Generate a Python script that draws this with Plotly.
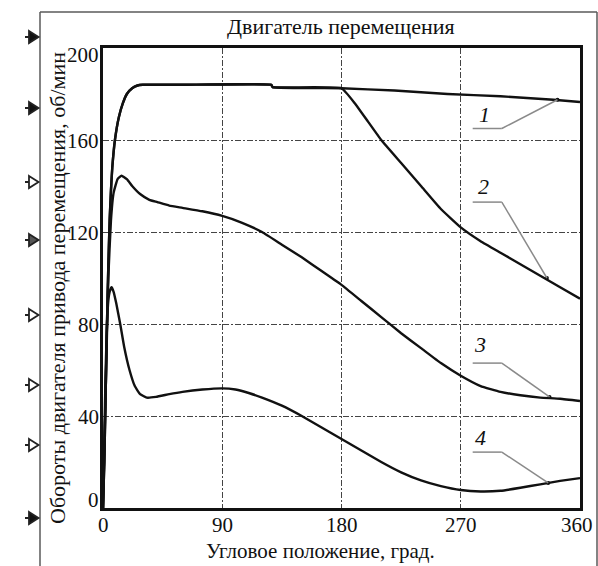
import plotly.graph_objects as go

# ---- data ----
x1 = [0, 1, 2, 3, 4, 5, 6, 7, 9, 12, 15, 18, 22, 26, 30, 60, 127, 128, 180, 220, 260, 300, 340, 360]
y1 = [0, 20, 50, 80, 105, 125, 138, 148, 160, 170, 176, 180, 182.5, 183.7, 184, 184, 184, 183, 182.5, 181.5, 180, 179, 177.5, 176.5]

x2 = [0, 1, 2, 3, 4, 5, 6, 7, 9, 12, 15, 18, 22, 26, 30, 60, 127, 128, 180, 190, 200, 210, 225, 240, 255, 270, 285, 300, 315, 330, 345, 360]
y2 = [0, 20, 50, 80, 105, 125, 138, 148, 160, 170, 176, 180, 182.5, 183.7, 184, 184, 184, 183, 182.5, 176, 168, 160, 150, 140, 130, 122, 116, 111, 106, 101, 96, 91]

x3 = [0, 2, 4, 6, 8, 11, 14, 18, 22, 28, 35, 41, 50, 60, 75, 90, 105, 120, 135, 150, 165, 180, 195, 210, 225, 240, 255, 270, 285, 300, 315, 330, 345, 360]
y3 = [0, 50, 100, 125, 137, 143, 144.5, 143, 140, 136.5, 134, 133, 131.5, 130.5, 129, 127, 124, 120, 114.5, 109, 103, 97, 90, 83, 76, 69.5, 63, 57.5, 53, 50.5, 49, 48, 47.5, 46.5]

x4 = [0, 1, 2, 3, 4, 5, 6.5, 8, 10, 13, 16, 20, 24, 28, 33, 40, 50, 60, 75, 90, 100, 110, 120, 135, 150, 165, 180, 195, 210, 225, 240, 255, 270, 285, 300, 315, 330, 345, 360]
y4 = [0, 30, 60, 80, 90, 94, 96, 94, 89, 80, 70, 60, 53, 49.5, 48, 48.3, 49.5, 50.5, 51.5, 52, 51.5, 50, 48, 44.5, 40, 35, 30, 25, 20, 15.5, 12, 9.5, 7.8, 7.2, 7.5, 8.8, 10.3, 11.8, 13]

series_x = [x1, x2, x3, x4]
series_y = [y1, y2, y3, y4]
series_names = ["1", "2", "3", "4"]

x_ticks = [0, 90, 180, 270, 360]
y_ticks = [0, 40, 80, 120, 160, 200]

# leader labels: label position, elbow start/end, target on curve (data units)
label_text_x = [288, 287, 284.5, 285]
label_text_y = [171, 140, 71, 30.5]
leader_x0 = [279, 279, 279, 279]
leader_x1 = [301, 301, 301, 301]
leader_y = [165, 133, 63, 24.3]
target_x = [343, 335, 337, 336]
target_y = [177.5, 100, 48.3, 10.9]

title_text = "Двигатель перемещения"
xlabel = "Угловое положение, град."
ylabel = "Обороты двигателя привода перемещения, об/мин"

FONT = "Liberation Serif, Times New Roman, serif"

# ---- geometry helpers (pixel -> paper) ----
L, R, T, B = 103, 580, 48, 508
W, H = 598, 566


def px(x):
    return (x - L) / (R - L)


def py(y):
    return (B - y) / (B - T)


fig = go.Figure()
for xs, ys, nm in zip(series_x, series_y, series_names):
    fig.add_trace(go.Scatter(x=xs, y=ys, mode="lines", name=nm,
                             line=dict(color="#111111", width=2.4, shape="spline", smoothing=0.35),
                             showlegend=False, hoverinfo="skip"))

shapes = []
annotations = []

# leader lines
for i in range(4):
    shapes.append(dict(type="line", xref="x", yref="y", x0=leader_x0[i], y0=leader_y[i],
                       x1=leader_x1[i], y1=leader_y[i], line=dict(color="#8a8a8a", width=1.5)))
    shapes.append(dict(type="line", xref="x", yref="y", x0=leader_x1[i], y0=leader_y[i],
                       x1=target_x[i], y1=target_y[i], line=dict(color="#8a8a8a", width=1.5)))
    annotations.append(dict(x=label_text_x[i], y=label_text_y[i], xref="x", yref="y",
                            xanchor="center", yanchor="middle",
                            text="<i>" + series_names[i] + "</i>", showarrow=False,
                            font=dict(family=FONT, size=22, color="#111111")))
fig.add_trace(go.Scatter(x=target_x, y=target_y, mode="markers",
                         marker=dict(color="#111111", size=4), showlegend=False, hoverinfo="skip"))

# tick labels (placed at axis values)
for v in x_ticks:
    annotations.append(dict(x=v, y=py(525), xref="x", yref="paper", text=str(v), showarrow=False,
                            xanchor="center", yanchor="middle", xshift=-3 if v == x_ticks[-1] else 0,
                            font=dict(family=FONT, size=21, color="#111111")))
for v in y_ticks:
    shift = -7 if v == y_ticks[-1] else (8 if v == y_ticks[0] else -1)
    annotations.append(dict(x=px(101), y=v, xref="paper", yref="y", text=str(v), showarrow=False,
                            xanchor="right", yanchor="middle", yshift=shift,
                            font=dict(family=FONT, size=21, color="#111111")))

# outer frame
frame_col = "#5a5a5a"
shapes.append(dict(type="line", xref="paper", yref="paper", x0=px(40), y0=py(12), x1=px(40), y1=py(566),
                   line=dict(color=frame_col, width=1.5)))
shapes.append(dict(type="line", xref="paper", yref="paper", x0=px(40), y0=py(12), x1=px(597), y1=py(12),
                   line=dict(color=frame_col, width=1.5)))
shapes.append(dict(type="line", xref="paper", yref="paper", x0=px(597), y0=py(12), x1=px(597), y1=py(566),
                   line=dict(color=frame_col, width=1.5)))

# left-side port arrows
arrow_y = [37, 108, 182, 240, 315, 385, 445, 518]
arrow_fill = ["#111111", "#111111", "#ffffff", "#555555", "#ffffff", "#ffffff", "#ffffff", "#111111"]
for ay, fc in zip(arrow_y, arrow_fill):
    path = "M {a},{b} L {c},{d} L {e},{f} Z".format(
        a=px(29), b=py(ay - 6), c=px(38.5), d=py(ay), e=px(29), f=py(ay + 6))
    shapes.append(dict(type="path", xref="paper", yref="paper", path=path,
                       fillcolor=fc, line=dict(color="#222222", width=1.8)))
    shapes.append(dict(type="line", xref="paper", yref="paper", x0=px(25), y0=py(ay), x1=px(29), y1=py(ay),
                       line=dict(color="#222222", width=2)))

# titles
annotations.append(dict(x=px(341), y=py(27), xref="paper", yref="paper", text=title_text,
                        xanchor="center", yanchor="middle",
                        showarrow=False, font=dict(family=FONT, size=22, color="#111111")))
annotations.append(dict(x=px(320), y=py(551), xref="paper", yref="paper", text=xlabel,
                        xanchor="center", yanchor="middle",
                        showarrow=False, font=dict(family=FONT, size=21, color="#111111")))
annotations.append(dict(x=px(57), y=py(288), xref="paper", yref="paper", text=ylabel,
                        xanchor="center", yanchor="middle",
                        showarrow=False, textangle=-90, font=dict(family=FONT, size=22, color="#111111")))

grid_dash = "6px,2px,2px,2px"
fig.update_layout(
    width=W, height=H,
    margin=dict(l=L, r=W - R, t=T, b=H - B, pad=0, autoexpand=False),
    paper_bgcolor="white", plot_bgcolor="white",
    shapes=shapes, annotations=annotations,
    font=dict(family=FONT, size=21, color="#111111"),
    xaxis=dict(range=[0, 360], tickvals=x_ticks, showticklabels=False,
               showgrid=True, gridcolor="#444444", gridwidth=1, griddash=grid_dash,
               showline=True, linecolor="#111111", linewidth=2.5, mirror=True, automargin=False,
               ticks="", zeroline=False),
    yaxis=dict(range=[0, 200], tickvals=y_ticks, showticklabels=False,
               showgrid=True, gridcolor="#444444", gridwidth=1, griddash=grid_dash,
               showline=True, linecolor="#111111", linewidth=2.5, mirror=True, automargin=False,
               ticks="", zeroline=False),
)

fig.write_html("out.html", config={"displayModeBar": False},
               post_script="document.body.style.margin='0px';document.body.style.overflow='hidden';")
